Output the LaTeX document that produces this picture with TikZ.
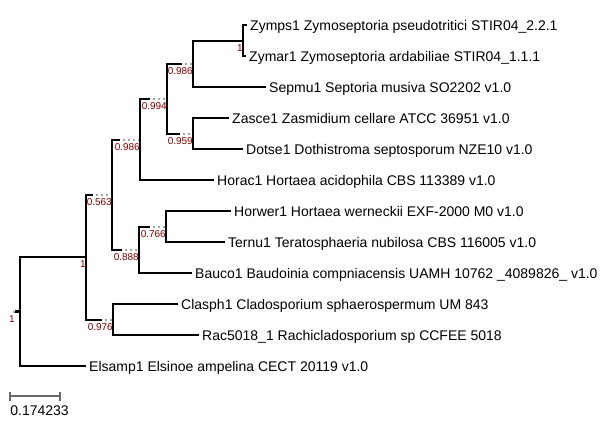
\documentclass[tikz,border=0pt]{standalone}
\usepackage{fontspec}
\setmainfont{Liberation Sans}
\definecolor{supred}{RGB}{128,0,0}
\definecolor{dotgray}{RGB}{165,165,165}
\definecolor{scalegray}{RGB}{105,105,105}
\begin{document}
\begin{tikzpicture}[x=1pt,y=-1pt,
  br/.style={draw=black,line width=2pt,line join=miter},
  dotbr/.style={draw=dotgray,line width=2pt,dash pattern=on 2pt off 3pt,dash phase=2pt},
  leaf/.style={anchor=base west,inner sep=0pt,font=\fontsize{14}{16}\selectfont},
  sup/.style={anchor=base east,inner sep=0pt,text=supred,font=\fontsize{10}{12}\selectfont}]
\useasboundingbox (0,0) rectangle (611,442);

% internal nodes
\coordinate (rootstub) at (10,311.5);
\coordinate (root) at (20,311.5);
\coordinate (n1) at (86,257);
\coordinate (n0976) at (113,319.5);   \coordinate (n0976s) at (102,319.5);
\coordinate (n0563) at (112,194.75);  \coordinate (n0563s) at (93,194.75);
\coordinate (n0986a) at (140,139.5);  \coordinate (n0986as) at (120,139.5);
\coordinate (n0888) at (139,250);     \coordinate (n0888s) at (122,250);
\coordinate (n0766) at (166,226.5);   \coordinate (n0766s) at (150,226.5);
\coordinate (n0994) at (167,98.6);    \coordinate (n0994s) at (150,98.6);
\coordinate (n0986b) at (193,63.75);  \coordinate (n0986bs) at (182,63.75);
\coordinate (n0959) at (193,133.5);   \coordinate (n0959s) at (180,133.5);
\coordinate (nz) at (243,40.5);

% leaf ends
\coordinate (zymps) at (247,25);
\coordinate (zymar) at (246,56);
\coordinate (sepmu) at (266,87);
\coordinate (zasce) at (229,118);
\coordinate (dotse) at (243,149);
\coordinate (horac) at (214,180);
\coordinate (horwer) at (231,211);
\coordinate (ternu) at (225,242);
\coordinate (bauco) at (192,273);
\coordinate (clasph) at (178,304);
\coordinate (rac) at (199,335);
\coordinate (elsamp) at (86,366);

% root
\draw[dotbr] (rootstub) -- (root);
\fill[black] (15,310) rectangle (21,313.3);

% branches
\draw[br] (root) |- (n1);
\draw[br] (root) |- (elsamp);
\draw[br] (n1) |- (n0563s);  \draw[dotbr] (n0563s) -- (n0563);
\draw[br] (n1) |- (n0976s);  \draw[dotbr] (n0976s) -- (n0976);
\draw[br] (n0976) |- (clasph);
\draw[br] (n0976) |- (rac);
\draw[br] (n0563) |- (n0986as); \draw[dotbr] (n0986as) -- (n0986a);
\draw[br] (n0563) |- (n0888s);  \draw[dotbr] (n0888s) -- (n0888);
\draw[br] (n0888) |- (n0766s);  \draw[dotbr] (n0766s) -- (n0766);
\draw[br] (n0888) |- (bauco);
\draw[br] (n0766) |- (horwer);
\draw[br] (n0766) |- (ternu);
\draw[br] (n0986a) |- (n0994s); \draw[dotbr] (n0994s) -- (n0994);
\draw[br] (n0986a) |- (horac);
\draw[br] (n0994) |- (n0986bs); \draw[dotbr] (n0986bs) -- (n0986b);
\draw[br] (n0994) |- (n0959s);  \draw[dotbr] (n0959s) -- (n0959);
\draw[br] (n0959) |- (zasce);
\draw[br] (n0959) |- (dotse);
\draw[br] (n0986b) |- (nz);
\draw[br] (n0986b) |- (sepmu);
\draw[br] (nz) |- (zymps);
\draw[br] (nz) |- (zymar);

% leaf labels
\node[leaf] (tzymps) at ([xshift=3pt,yshift=-5pt]zymps) {Zymps1 Zymoseptoria pseudotritici STIR04\_2.2.1};
\node[leaf] (tzymar) at ([xshift=3pt,yshift=-5pt]zymar) {Zymar1 Zymoseptoria ardabiliae STIR04\_1.1.1};
\node[leaf] (tsepmu) at ([xshift=3pt,yshift=-5pt]sepmu) {Sepmu1 Septoria musiva SO2202 v1.0};
\node[leaf] (tzasce) at ([xshift=3pt,yshift=-5pt]zasce) {Zasce1 Zasmidium cellare ATCC 36951 v1.0};
\node[leaf] (tdotse) at ([xshift=3pt,yshift=-5pt]dotse) {Dotse1 Dothistroma septosporum NZE10 v1.0};
\node[leaf] (thorac) at ([xshift=3pt,yshift=-5pt]horac) {Horac1 Hortaea acidophila CBS 113389 v1.0};
\node[leaf] (thorwer) at ([xshift=3pt,yshift=-5pt]horwer) {Horwer1 Hortaea werneckii EXF-2000 M0 v1.0};
\node[leaf] (tternu) at ([xshift=3pt,yshift=-5pt]ternu) {Ternu1 Teratosphaeria nubilosa CBS 116005 v1.0};
\node[leaf] (tbauco) at ([xshift=3pt,yshift=-5pt]bauco) {Bauco1 Baudoinia compniacensis UAMH 10762 \_4089826\_ v1.0};
\node[leaf] (tclasph) at ([xshift=3pt,yshift=-5pt]clasph) {Clasph1 Cladosporium sphaerospermum UM 843};
\node[leaf] (trac) at ([xshift=3pt,yshift=-5pt]rac) {Rac5018\_1 Rachicladosporium sp CCFEE 5018};
\node[leaf] (telsamp) at ([xshift=3pt,yshift=-5pt]elsamp) {Elsamp1 Elsinoe ampelina CECT 20119 v1.0};

% support values
\node[sup] (sroot) at (14.8,322.5) {1};
\node[sup] (s1) at ([yshift=-10.8pt]n1) {1};
\node[sup] (s0976) at ([yshift=-10.8pt]n0976) {0.976};
\node[sup] (s0563) at ([yshift=-10.8pt]n0563) {0.563};
\node[sup] (s0986a) at ([yshift=-10.8pt]n0986a) {0.986};
\node[sup] (s0888) at ([yshift=-10.8pt]n0888) {0.888};
\node[sup] (s0766) at ([yshift=-10.8pt]n0766) {0.766};
\node[sup] (s0994) at ([yshift=-10.8pt]n0994) {0.994};
\node[sup] (s0986b) at ([yshift=-10.8pt]n0986b) {0.986};
\node[sup] (s0959) at ([yshift=-10.8pt]n0959) {0.959};
\node[sup] (sz) at ([yshift=-10.8pt]nz) {1};

% scale bar
\coordinate (sbl) at (10,396);
\coordinate (sbr) at (60,396);
\draw[scalegray,line width=2pt] (sbl) -- (sbr);
\draw[scalegray,line width=2pt] ([yshift=4.5pt]sbl) -- ([yshift=-4.5pt]sbl);
\draw[scalegray,line width=2pt] ([yshift=4.5pt]sbr) -- ([yshift=-4.5pt]sbr);
\node[leaf] (scaletext) at (10.2,415) {0.174233};
\end{tikzpicture}
\end{document}
